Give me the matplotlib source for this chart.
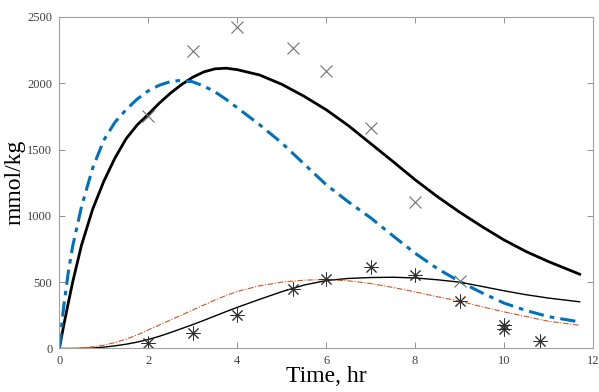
import matplotlib
matplotlib.use('Agg')
import matplotlib.pyplot as plt

# model curves (time in hr, mmol/kg)
t_curve = [0, 0.1, 0.2, 0.3, 0.5, 0.75, 1.0, 1.25, 1.5, 1.75, 2.0, 2.25, 2.5,
           2.75, 3.0, 3.25, 3.5, 3.75, 4.0, 4.5, 5.0, 5.5, 6.0, 6.5, 7.0,
           7.5, 8.0, 8.5, 9.0, 9.5, 10.0, 10.5, 11.0, 11.7]
black_thick = [0, 175, 340, 500, 780, 1050, 1260, 1435, 1580, 1685, 1765,
               1850, 1925, 1990, 2045, 2085, 2108, 2113, 2102, 2062, 1992,
               1902, 1800, 1680, 1545, 1410, 1272, 1145, 1028, 920, 818,
               730, 655, 560]
blue_dashdot = [0, 320, 570, 770, 1070, 1360, 1570, 1705, 1800, 1880, 1942,
                1985, 2012, 2022, 2010, 1978, 1935, 1878, 1815, 1688, 1550,
                1392, 1235, 1105, 985, 850, 718, 602, 505, 420, 342, 286,
                240, 200]
black_thin = [0, 0, 0, 0, 1, 4, 10, 20, 32, 48, 68, 92, 120, 150, 180, 212,
              245, 278, 310, 370, 428, 478, 512, 528, 535, 537, 532, 518,
              500, 468, 435, 405, 380, 352]
orange_dashdot = [0, 0, 0, 1, 4, 12, 25, 45, 70, 102, 140, 177, 215, 252,
                  290, 328, 365, 400, 430, 472, 500, 515, 520, 510, 490, 460,
                  427, 390, 357, 315, 276, 240, 205, 175]

# measured points
t_cross = [2, 3, 4, 5.25, 6, 7, 8, 9]
y_cross = [1751, 2244, 2425, 2267, 2093, 1664, 1107, 507]
t_star = [2, 3, 4, 5.25, 6, 7, 8, 9, 10, 10, 10.8]
y_star = [38, 120, 256, 452, 527, 612, 552, 361, 180, 150, 55]

xticks = [0, 2, 4, 6, 8, 10, 12]
yticks = [0, 500, 1000, 1500, 2000, 2500]

plt.rcParams['font.family'] = ['Liberation Serif', 'DejaVu Serif']

fig = plt.figure(figsize=(5.99, 3.92), dpi=100)
ax = fig.add_axes([0.099, 0.111, 0.891, 0.846])

ax.plot(t_curve, black_thick, color='black', lw=2.0)
ax.plot(t_curve, blue_dashdot, color='#0072BD', lw=2.2, ls=(0, (5, 2, 1.5, 2)))
ax.plot(t_curve, black_thin, color='black', lw=1.0)
ax.plot(t_curve, orange_dashdot, color='#D95319', lw=0.8, ls=(0, (5, 1.5, 1, 1.5)))

ax.plot(t_cross, y_cross, ls='none', marker='x', ms=9, mew=0.8, color='#707070')
ax.plot(t_star, y_star, ls='none', marker=(8, 2, 0), ms=10, mew=0.7, color='#303030')

ax.set_xlim(0, 12)
ax.set_ylim(0, 2500)
ax.set_xticks(xticks)
ax.set_yticks(yticks)
ax.tick_params(direction='in', top=True, right=True, length=4, width=0.6,
               colors='#808080', labelcolor='#404040', labelsize=9, pad=5)
for s in ax.spines.values():
    s.set_color('#a0a0a0')
    s.set_linewidth(0.8)

ax.set_xlabel('Time, hr', fontsize=17, labelpad=-1)
ax.set_ylabel('mmol/kg', fontsize=17, labelpad=1)

fig.savefig('out.png', dpi=100)
